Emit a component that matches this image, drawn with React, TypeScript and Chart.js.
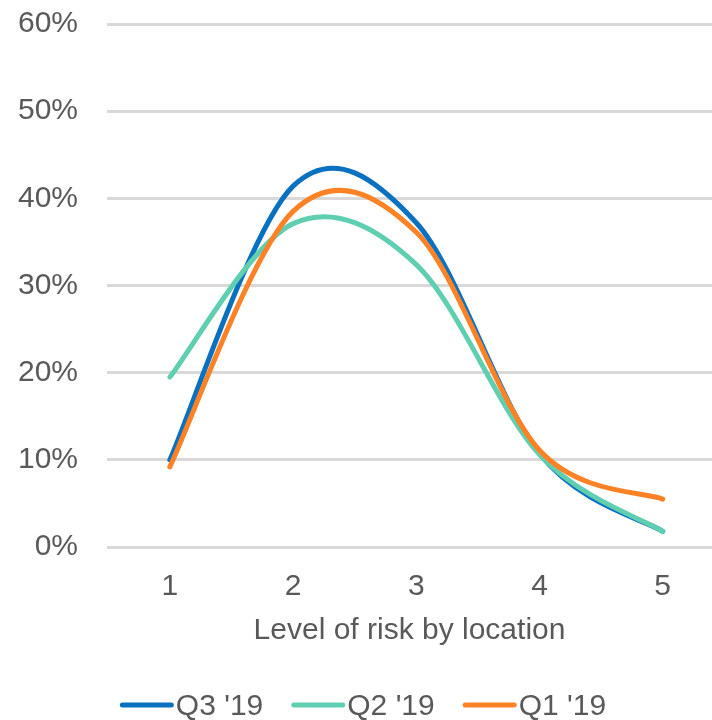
import React, { useEffect, useRef } from "react";
import { Chart, registerables } from "chart.js";

Chart.register(...registerables);

const FONT = '"Liberation Sans", Arial, Helvetica, sans-serif';
const TEXT_COLOR = "#595959";

const levels = [1, 2, 3, 4, 5];
const seriesLabels = ["Q3 '19", "Q2 '19", "Q1 '19"];
const q3Values = [10, 41.4, 37.2, 10.7, 1.8];
const q2Values = [19.5, 37.1, 32.4, 10.6, 1.8];
const q1Values = [9.2, 38.5, 36.1, 11.1, 5.5];
const seriesColors = ["#0A70C0", "#60CFB1", "#FD8226"];
const yTickValues = [0, 10, 20, 30, 40, 50, 60];
const xTitle = "Level of risk by location";

// Excel-like smoothing: uniform Catmull-Rom control points computed from the
// library's own point positions.
const smoothPlugin = {
  id: "excelSmooth",
  beforeDatasetsDraw(chart: any) {
    chart.data.datasets.forEach((_ds: any, di: number) => {
      const meta = chart.getDatasetMeta(di);
      const pts = meta.data;
      for (let i = 0; i < pts.length; i++) {
        const cur = pts[i];
        const prev = pts[i - 1] || cur;
        const next = pts[i + 1] || cur;
        const dx = (next.x - prev.x) / 6;
        const dy = (next.y - prev.y) / 6;
        cur.cp1x = cur.x - dx;
        cur.cp1y = cur.y - dy;
        cur.cp2x = cur.x + dx;
        cur.cp2y = cur.y + dy;
      }
      if (meta.dataset) meta.dataset._path = undefined;
    });
  },
};

const legendPlugin = {
  id: "customLegend",
  afterDraw(chart: any) {
    const ctx = chart.ctx;
    ctx.save();
    ctx.font = `30px ${FONT}`;
    const items = chart.data.datasets.map((ds: any) => ({
      label: ds.label,
      color: ds.borderColor,
      w: ctx.measureText(ds.label).width,
    }));
    const lineW = 54;
    const gapText = 2;
    const gapItem = 28;
    const total =
      items.reduce((s: number, it: any) => s + lineW + gapText + it.w, 0) +
      gapItem * (items.length - 1);
    let x = 363 - total / 2;
    const lineY = 705;
    const textY = 715;
    items.forEach((it: any) => {
      ctx.strokeStyle = it.color;
      ctx.lineWidth = 5;
      ctx.lineCap = "round";
      ctx.beginPath();
      ctx.moveTo(x + 2.5, lineY);
      ctx.lineTo(x + lineW - 2.5, lineY);
      ctx.stroke();
      ctx.fillStyle = TEXT_COLOR;
      ctx.textBaseline = "alphabetic";
      ctx.textAlign = "left";
      ctx.fillText(it.label, x + lineW + gapText, textY);
      x += lineW + gapText + it.w + gapItem;
    });
    ctx.restore();
  },
};

export default function App() {
  const ref = useRef<HTMLCanvasElement | null>(null);

  useEffect(() => {
    if (!ref.current) return;
    const series = [q3Values, q2Values, q1Values];
    const chart = new Chart(ref.current, {
      type: "line",
      data: {
        datasets: series.map((vals, si) => ({
          label: seriesLabels[si],
          data: levels.map((x, i) => ({ x, y: vals[i] })),
          borderColor: seriesColors[si],
          backgroundColor: seriesColors[si],
          borderWidth: 5,
          borderCapStyle: "round",
          borderJoinStyle: "round",
          pointRadius: 0,
          pointHoverRadius: 0,
          tension: 0.4,
          fill: false,
          order: 3 - si,
        })),
      },
      options: {
        responsive: false,
        animation: false,
        events: [],
        layout: { padding: { top: 24, bottom: 63, left: 0, right: 0 } },
        plugins: {
          legend: { display: false },
          tooltip: { enabled: false },
        },
        scales: {
          x: {
            type: "linear",
            min: 0.49,
            max: 5.4,
            afterBuildTicks: (scale: any) => {
              scale.ticks = levels.map((v) => ({ value: v }));
            },
            afterFit: (scale: any) => {
              scale.height = 110;
              scale.paddingLeft = 0;
              scale.paddingRight = 0;
            },
            grid: { display: false, drawTicks: false },
            border: { display: false },
            ticks: {
              padding: 22,
              color: TEXT_COLOR,
              font: { family: FONT, size: 30 },
              callback: (v: any) => String(v),
              maxRotation: 0,
              autoSkip: false,
            },
            title: {
              display: true,
              text: xTitle,
              color: TEXT_COLOR,
              font: { family: FONT, size: 30 },
              padding: { top: 0, bottom: 8 },
            },
          },
          y: {
            min: 0,
            max: 60,
            afterBuildTicks: (scale: any) => {
              scale.ticks = yTickValues.map((v) => ({ value: v }));
            },
            afterFit: (scale: any) => {
              scale.width = 107;
              scale.paddingTop = 0;
              scale.paddingBottom = 0;
            },
            grid: {
              color: "#D9D9D9",
              lineWidth: 3,
              drawTicks: false,
            },
            border: { display: false },
            ticks: {
              padding: 29,
              color: TEXT_COLOR,
              font: { family: FONT, size: 30 },
              callback: (v: any) => v + "%",
            },
          },
        },
      },
      plugins: [smoothPlugin, legendPlugin],
    } as any);
    return () => chart.destroy();
  }, []);

  return (
    <div style={{ position: "absolute", left: 0, top: 0, width: 712, height: 720, background: "#fff" }}>
      <canvas ref={ref} width={712} height={720} style={{ display: "block" }} />
    </div>
  );
}
